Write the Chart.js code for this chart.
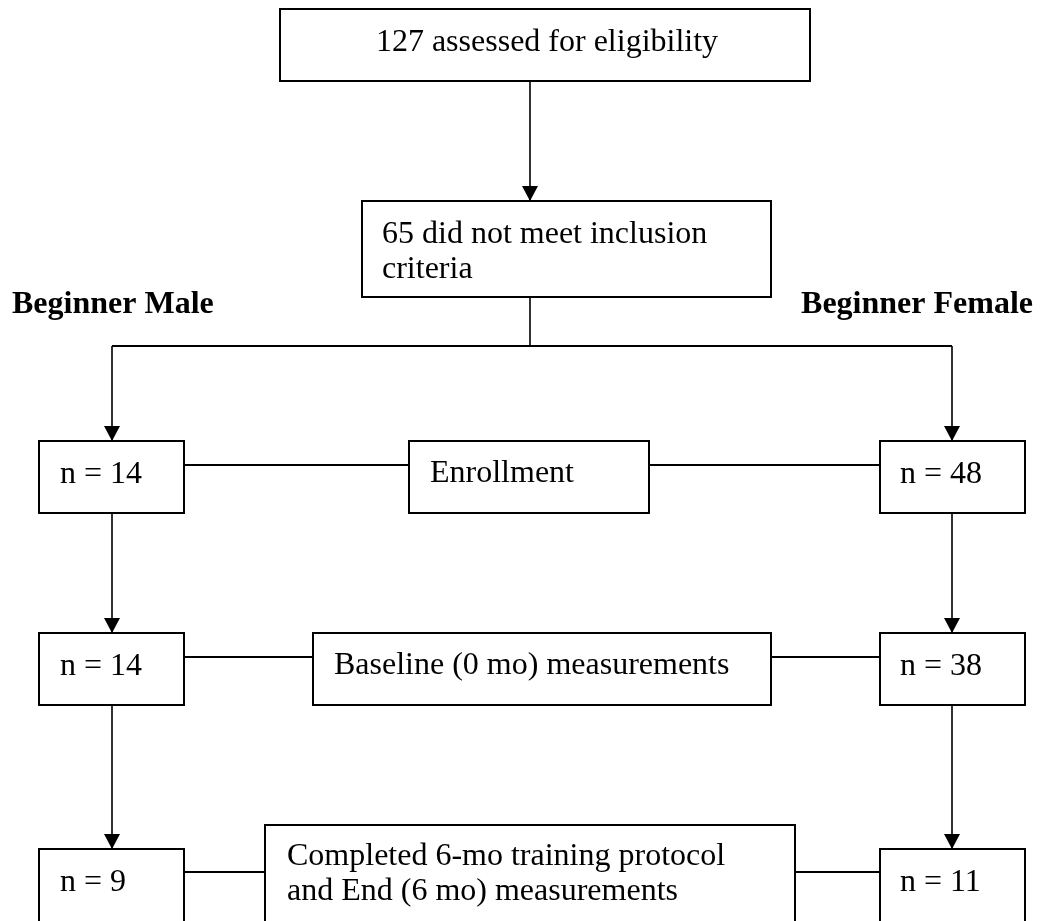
<!DOCTYPE html>
<html>
<head>
<meta charset="utf-8">
<script src="https://cdn.jsdelivr.net/npm/chart.js@4/dist/chart.umd.min.js"></script>
<style>
  html, body { margin: 0; padding: 0; background: #ffffff; }
  #wrap { width: 1043px; height: 921px; }
  canvas { display: block; }
</style>
</head>
<body>
<div id="wrap"><canvas id="flow" width="1043" height="921"></canvas></div>
<script>
// ---------------- data (values) ----------------
const assessedCount = 127;
const excludedCount = 65;
const groupNames = ['Beginner Male', 'Beginner Female'];
const stageNames = ['Enrollment', 'Baseline (0 mo) measurements', 'Completed 6-mo training protocol\nand End (6 mo) measurements'];
const maleCounts = [14, 14, 9];
const femaleCounts = [48, 38, 11];

// ---------------- layout (diagram units on the chart scales) ----------------
const topBox = [280, 810, 9, 81];          // x0, x1, y0, y1
const excludeBox = [362, 771, 201, 297];
const trunkX = 530;
const branchY = 346;
const colCenters = [112, 952];
const sideBoxX = [[39, 184], [880, 1025]];
const rowTops = [441, 633, 849];
const rowBottoms = [513, 705, 930];
const midBoxX = [[409, 649], [313, 771], [265, 795]];
const midTops = [441, 633, 825];
const midBottoms = [513, 705, 930];
const linkY = [465, 657, 872];

// ---------------- build datasets ----------------
const black = '#000000';
function rect(b) {
  return [{x:b[0],y:b[2]},{x:b[1],y:b[2]},{x:b[1],y:b[3]},{x:b[0],y:b[3]},{x:b[0],y:b[2]},{x:b[1],y:b[2]}];
}
function lineDs(points, width) {
  return { type: 'line', data: points, showLine: true, borderColor: black, borderWidth: width,
           pointRadius: 0, fill: false, tension: 0, borderJoinStyle: 'miter', clip: false };
}
const datasets = [];
const boxes = [topBox, excludeBox];
for (let r = 0; r < 3; r++) {
  boxes.push([sideBoxX[0][0], sideBoxX[0][1], rowTops[r], rowBottoms[r]]);
  boxes.push([sideBoxX[1][0], sideBoxX[1][1], rowTops[r], rowBottoms[r]]);
  boxes.push([midBoxX[r][0], midBoxX[r][1], midTops[r], midBottoms[r]]);
}
boxes.forEach(b => datasets.push(lineDs(rect(b), 2)));

// arrows: [x0,y0,x1,y1] with head at (x1,y1)
const arrows = [[trunkX, topBox[3], trunkX, excludeBox[2]]];
colCenters.forEach(cx => arrows.push([cx, branchY, cx, rowTops[0]]));
for (let r = 0; r < 2; r++) colCenters.forEach(cx => arrows.push([cx, rowBottoms[r], cx, rowTops[r + 1]]));
arrows.forEach(a => datasets.push(lineDs([{x:a[0],y:a[1]},{x:a[2],y:a[3]}], 1.6)));

// plain connectors
datasets.push(lineDs([{x:trunkX,y:excludeBox[3]},{x:trunkX,y:branchY}], 1.6));
datasets.push(lineDs([{x:colCenters[0],y:branchY},{x:colCenters[1],y:branchY}], 2));
for (let r = 0; r < 3; r++) {
  datasets.push(lineDs([{x:sideBoxX[0][1],y:linkY[r]},{x:midBoxX[r][0],y:linkY[r]}], 2));
  datasets.push(lineDs([{x:midBoxX[r][1],y:linkY[r]},{x:sideBoxX[1][0],y:linkY[r]}], 2));
}

// ---------------- plugins ----------------
const FONT = '"Liberation Serif", "Times New Roman", serif';
const whiteBg = {
  id: 'whiteBg',
  beforeDraw(chart) {
    const c = chart.ctx; c.save(); c.fillStyle = '#ffffff';
    c.fillRect(0, 0, chart.width, chart.height); c.restore();
  }
};
const flowText = {
  id: 'flowText',
  afterDatasetsDraw(chart) {
    const c = chart.ctx, X = v => chart.scales.x.getPixelForValue(v), Y = v => chart.scales.y.getPixelForValue(v);
    c.save();
    // arrow heads
    c.fillStyle = black;
    arrows.forEach(a => {
      const tx = X(a[2]), ty = Y(a[3]);
      c.beginPath(); c.moveTo(tx, ty); c.lineTo(tx - 8, ty - 15); c.lineTo(tx + 8, ty - 15); c.closePath(); c.fill();
    });
    c.fillStyle = black;
    c.textBaseline = 'alphabetic';
    c.font = '32px ' + FONT;
    // top box
    c.textAlign = 'center';
    c.fillText(assessedCount + ' assessed for eligibility', X((topBox[0] + topBox[1]) / 2 + 2), Y(topBox[2] + 42));
    c.textAlign = 'left';
    c.fillText(excludedCount + ' did not meet inclusion', X(excludeBox[0] + 20), Y(excludeBox[2] + 42));
    c.fillText('criteria', X(excludeBox[0] + 20), Y(excludeBox[2] + 77));
    // rows
    for (let r = 0; r < 3; r++) {
      c.fillText('n = ' + maleCounts[r], X(sideBoxX[0][0] + 21), Y(rowTops[r] + 42));
      c.fillText('n = ' + femaleCounts[r], X(sideBoxX[1][0] + 20), Y(rowTops[r] + 42));
      const lines = stageNames[r].split('\n');
      if (lines.length === 1) {
        c.fillText(lines[0], X(midBoxX[r][0] + 21), Y(midTops[r] + 41));
      } else {
        c.fillText(lines[0], X(midBoxX[r][0] + 22), Y(midTops[r] + 40));
        c.fillText(lines[1], X(midBoxX[r][0] + 22), Y(midTops[r] + 75));
      }
    }
    // group headings
    c.font = 'bold 32px ' + FONT;
    c.textAlign = 'left';
    c.fillText(groupNames[0], X(12), Y(313));
    c.textAlign = 'right';
    c.fillText(groupNames[1], X(1033), Y(313));
    c.restore();
  }
};

new Chart(document.getElementById('flow'), {
  type: 'scatter',
  data: { datasets },
  options: {
    responsive: false,
    animation: false,
    events: [],
    layout: { padding: 0 },
    plugins: { legend: { display: false }, tooltip: { enabled: false } },
    scales: {
      x: { type: 'linear', min: 0, max: 1043, display: false },
      y: { type: 'linear', min: 0, max: 921, reverse: true, display: false }
    }
  },
  plugins: [whiteBg, flowText]
});
</script>
</body>
</html>
